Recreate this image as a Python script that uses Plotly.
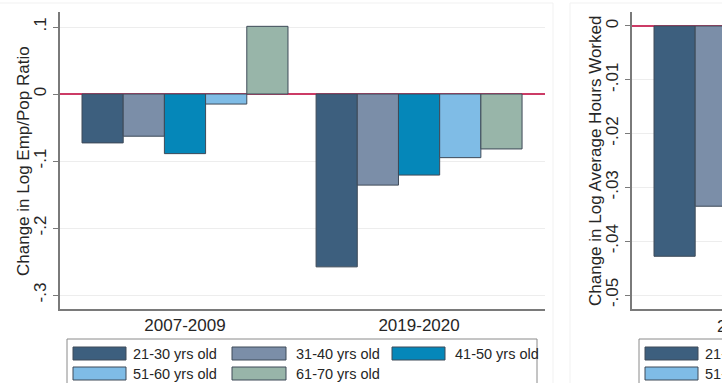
import plotly.graph_objects as go

# ---- data -------------------------------------------------------------
periods = ["2007-2009", "2019-2020"]
age_groups = ["21-30 yrs old", "31-40 yrs old", "41-50 yrs old",
              "51-60 yrs old", "61-70 yrs old"]
colors = ["#3d5f7e", "#7b8ea8", "#0587b9", "#7fbce6", "#98b5a9"]

# change in log employment / population ratio, per age group
emp_21_30 = [-0.073, -0.258]
emp_31_40 = [-0.063, -0.136]
emp_41_50 = [-0.089, -0.121]
emp_51_60 = [-0.015, -0.095]
emp_61_70 = [0.101, -0.082]
emp_values = [emp_21_30, emp_31_40, emp_41_50, emp_51_60, emp_61_70]

# change in log average hours worked (2007-2009, first two age groups)
hours_2007_2009 = [-0.0428, -0.0335]

emp_ticks = [0.1, 0.0, -0.1, -0.2, -0.3]
emp_tick_text = [".1", "0", "-.1", "-.2", "-.3"]
hours_ticks = [0.0, -0.01, -0.02, -0.03, -0.04, -0.05]
hours_tick_text = ["0", "-.01", "-.02", "-.03", "-.04", "-.05"]

emp_title = "Change in Log Emp/Pop Ratio"
hours_title = "Change in Log Average Hours Worked"

# ---- layout geometry (pixels) ----------------------------------------
W, H = 722, 383
FONT = "Liberation Sans, Arial, sans-serif"
TXT = "#262626"
AXIS_COL = "#7a7a7a"
GRID_COL = "#ededed"
ZERO_COL = "#cc3b66"
OUTLINE = "#3e4a58"

BAR_W = 0.176
GROUP_START = -0.44
UNIT_PX = 234.0

def px_x(p):
    return p / W

def px_y(p):
    return 1 - p / H

left_dom = [px_x(60), px_x(545)]
right_dom = [px_x(632), 1.0]
y_dom = [px_y(309), px_y(12)]
x_range_left = [-0.534, 1.538]
x_range_right = [-0.534, -0.534 + (W - 632) / UNIT_PX]

fig = go.Figure()

for i, (name, vals) in enumerate(zip(age_groups, emp_values)):
    fig.add_trace(go.Bar(
        x=[0, 1], y=vals, name=name,
        offset=GROUP_START + i * BAR_W, width=BAR_W,
        marker=dict(color=colors[i], line=dict(color=OUTLINE, width=1)),
        xaxis="x", yaxis="y", showlegend=False,
    ))

for i, val in enumerate(hours_2007_2009):
    fig.add_trace(go.Bar(
        x=[0], y=[val], name=age_groups[i],
        offset=GROUP_START + i * BAR_W, width=BAR_W,
        marker=dict(color=colors[i], line=dict(color=OUTLINE, width=1)),
        xaxis="x2", yaxis="y2", showlegend=False,
    ))

common_y = dict(
    domain=y_dom, tickangle=-90, ticks="outside", ticklen=5,
    tickcolor=AXIS_COL, tickfont=dict(size=17, color=TXT, family=FONT),
    showgrid=True, gridcolor=GRID_COL, gridwidth=1,
    zeroline=True, zerolinecolor=ZERO_COL, zerolinewidth=1.5,
    showline=True, linecolor=AXIS_COL, linewidth=1.5,
)

fig.update_layout(
    width=W, height=H,
    margin=dict(l=0, r=0, t=0, b=0),
    paper_bgcolor="white", plot_bgcolor="white",
    font=dict(family=FONT, color=TXT),
    barmode="overlay",
    xaxis=dict(domain=left_dom, range=x_range_left, anchor="y",
               tickvals=[0, 1], ticktext=periods, ticks="",
               tickfont=dict(size=17, color=TXT, family=FONT),
               showgrid=False, zeroline=False,
               showline=True, linecolor=AXIS_COL, linewidth=1.5),
    yaxis=dict(anchor="x", range=[-0.3209, 0.1224],
               tickvals=emp_ticks, ticktext=emp_tick_text, **common_y),
    xaxis2=dict(domain=right_dom, range=x_range_right, anchor="y2",
                showticklabels=False, ticks="",
                showgrid=False, zeroline=False,
                showline=True, linecolor=AXIS_COL, linewidth=1.5),
    yaxis2=dict(anchor="x2", range=[-0.0526, 0.0026],
                tickvals=hours_ticks, ticktext=hours_tick_text, **common_y),
)

shapes = []
annotations = []

# y axis titles, rotated
for text, xc in [(emp_title, 23), (hours_title, 595)]:
    annotations.append(dict(xref="paper", yref="paper",
                            x=px_x(xc), y=px_y(161), text=text,
                            textangle=-90, showarrow=False,
                            xanchor="center", yanchor="middle",
                            font=dict(size=17, color=TXT, family=FONT)))

# faint outer borders of the two graph regions
for x0, x1 in [(0, 553), (570, 1200)]:
    shapes.append(dict(type="line", xref="paper", yref="paper",
                       x0=px_x(x0), x1=px_x(x1), y0=px_y(3), y1=px_y(3),
                       line=dict(color="#f1f1f1", width=1)))
for xv in [553, 570]:
    shapes.append(dict(type="line", xref="paper", yref="paper",
                       x0=px_x(xv), x1=px_x(xv), y0=px_y(3), y1=px_y(400),
                       line=dict(color="#f1f1f1", width=1)))

# tick label of the second panel's first group
annotations.append(dict(xref="paper", yref="paper", x=px_x(757), y=px_y(326),
                        text=periods[0], showarrow=False,
                        xanchor="center", yanchor="middle",
                        font=dict(size=17, color=TXT, family=FONT)))

# legends (one under each panel)
swatch_cols = [(73, 126, 131), (232, 286, 294), (392, 445, 453)]
rows = [(347, 360), (367, 380)]
for dx in [0, 572]:
    shapes.append(dict(type="rect", xref="paper", yref="paper",
                       x0=px_x(67 + dx), x1=px_x(537 + dx),
                       y0=px_y(339), y1=px_y(395),
                       line=dict(color="#8a8a8a", width=1),
                       fillcolor="rgba(0,0,0,0)"))
    for k, name in enumerate(age_groups):
        r, c = divmod(k, 3)
        sx0, sx1, tx = swatch_cols[c]
        ry0, ry1 = rows[r]
        shapes.append(dict(type="rect", xref="paper", yref="paper",
                           x0=px_x(sx0 + dx), x1=px_x(sx1 + dx),
                           y0=px_y(ry1), y1=px_y(ry0),
                           fillcolor=colors[k],
                           line=dict(color=OUTLINE, width=1)))
        annotations.append(dict(xref="paper", yref="paper",
                                x=px_x(tx + dx), y=px_y((ry0 + ry1) / 2),
                                text=name, showarrow=False,
                                xanchor="left", yanchor="middle",
                                font=dict(size=14.5, color=TXT, family=FONT)))

fig.update_layout(shapes=shapes, annotations=annotations)

fig.write_html("out.html")
